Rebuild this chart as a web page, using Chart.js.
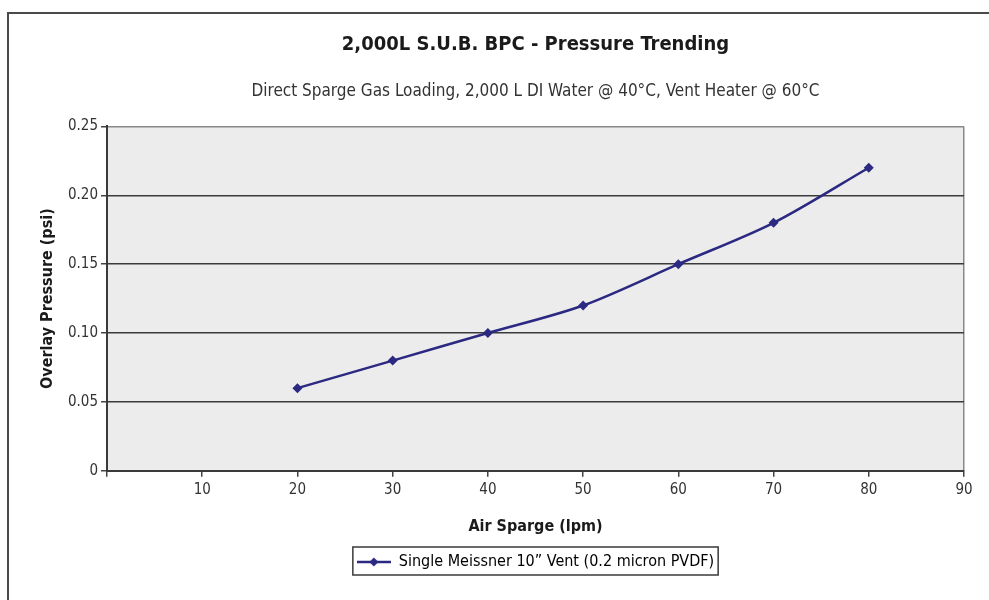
<!DOCTYPE html>
<html lang="en">
<head>
<meta charset="UTF-8" />
<title>2,000L S.U.B. BPC - Pressure Trending</title>
<script src="https://cdn.jsdelivr.net/npm/chart.js"></script>
<style>
  html, body { margin: 0; padding: 0; background: #fff; }
  #wrap { position: relative; width: 989px; height: 600px; overflow: hidden; }
  #frame {
    position: absolute; left: 7px; top: 12px; width: 1000px; height: 700px;
    border: 2px solid #4a4a4a; box-sizing: border-box;
  }
  #chart { position: absolute; left: 0; top: 0; }
</style>
</head>
<body>
<div id="wrap">
  <div id="frame"></div>
  <canvas id="chart" width="989" height="600"></canvas>
</div>
<script>
  // chart data
  const airSparge = [20, 30, 40, 50, 60, 70, 80];
  const overlayPressure = [0.06, 0.08, 0.10, 0.12, 0.15, 0.18, 0.22];
  const xTicks = [10, 20, 30, 40, 50, 60, 70, 80, 90];
  const yTicks = [0, 0.05, 0.10, 0.15, 0.20, 0.25];
  const seriesName = 'Single Meissner 10\u201D Vent (0.2 micron PVDF)';

  const FONT = '"Liberation Sans Narrow", "DejaVu Sans Condensed", "Liberation Sans", sans-serif';
  const NAVY = '#2b2982';
  Chart.defaults.font.family = FONT;
  Chart.defaults.color = '#333';

  // legend marker: line with a diamond
  function legendMarker() {
    const c = document.createElement('canvas');
    c.width = 34; c.height = 12;
    const g = c.getContext('2d');
    g.strokeStyle = NAVY; g.lineWidth = 2.5;
    g.beginPath(); g.moveTo(0, 6); g.lineTo(34, 6); g.stroke();
    g.fillStyle = NAVY;
    g.beginPath(); g.moveTo(17, 1.5); g.lineTo(21.5, 6); g.lineTo(17, 10.5); g.lineTo(12.5, 6); g.closePath(); g.fill();
    return c;
  }
  const marker = legendMarker();

  const plotBg = {
    id: 'plotBg',
    beforeDraw(chart) {
      const a = chart.chartArea, ctx = chart.ctx;
      ctx.save();
      ctx.fillStyle = '#ececec';
      ctx.fillRect(a.left, a.top, a.right - a.left, a.bottom - a.top);
      ctx.restore();
    },
    afterDraw(chart) {
      const lg = chart.legend;
      if (!lg || !lg.legendHitBoxes.length) return;
      const hb = lg.legendHitBoxes[0], ctx = chart.ctx;
      ctx.save();
      ctx.strokeStyle = '#3a3a3a'; ctx.lineWidth = 1.5;
      ctx.strokeRect(hb.left - 4, hb.top - 7, hb.width + 8, hb.height + 12);
      ctx.restore();
    }
  };

  new Chart(document.getElementById('chart'), {
    type: 'line',
    data: {
      datasets: [{
        label: seriesName,
        data: airSparge.map((x, i) => ({ x: x, y: overlayPressure[i] })),
        borderColor: NAVY,
        backgroundColor: NAVY,
        borderWidth: 2.5,
        tension: 0.3,
        pointStyle: 'rectRot',
        pointRadius: 5,
        pointBackgroundColor: NAVY,
        pointBorderWidth: 0
      }]
    },
    options: {
      responsive: false,
      animation: false,
      events: [],
      layout: { padding: { left: 8, right: 25, top: 0, bottom: 20 } },
      plugins: {
        title: {
          display: true,
          fullSize: false,
          text: '2,000L S.U.B. BPC - Pressure Trending',
          color: '#1a1a1a',
          font: { size: 20, weight: 'bold' },
          padding: { top: 33, bottom: 0 }
        },
        subtitle: {
          display: true,
          fullSize: false,
          text: 'Direct Sparge Gas Loading, 2,000 L DI Water @ 40\u00B0C, Vent Heater @ 60\u00B0C',
          color: '#333',
          font: { size: 17 },
          padding: { top: 24, bottom: 25 }
        },
        legend: {
          position: 'bottom',
          fullSize: false,
          labels: {
            usePointStyle: true,
            pointStyleWidth: 34,
            color: '#222',
            font: { size: 16 },
            padding: 14,
            generateLabels: (chart) => [{
              text: seriesName,
              pointStyle: marker,
              fillStyle: NAVY,
              strokeStyle: NAVY,
              lineWidth: 0,
              datasetIndex: 0
            }]
          }
        },
        tooltip: { enabled: false }
      },
      scales: {
        x: {
          type: 'linear',
          min: 0,
          max: 90,
          afterBuildTicks: (s) => { s.ticks = [0].concat(xTicks).map(v => ({ value: v })); },
          ticks: {
            callback: (v) => v === 0 ? '' : String(v),
            font: { size: 15 },
            color: '#333',
            padding: 4,
            maxRotation: 0
          },
          grid: {
            color: (c) => c.tick && c.tick.value === 90 ? '#888' : 'rgba(0,0,0,0)',
            lineWidth: 1.5,
            tickColor: '#444',
            tickLength: 6,
            drawOnChartArea: true
          },
          border: { color: '#3a3a3a', width: 2 },
          title: {
            display: true,
            text: 'Air Sparge (lpm)',
            color: '#1a1a1a',
            font: { size: 16, weight: 'bold' },
            padding: { top: 14, bottom: 4 }
          }
        },
        y: {
          min: 0,
          max: 0.25,
          afterBuildTicks: (s) => { s.ticks = yTicks.map(v => ({ value: v })); },
          afterFit: (s) => { s.width = 99; },
          ticks: {
            callback: (v) => v === 0 ? '0' : v.toFixed(2),
            font: { size: 15 },
            color: '#333',
            padding: 3
          },
          grid: {
            color: (c) => c.tick && Math.abs(c.tick.value - 0.25) < 1e-9 ? '#888' : '#3a3a3a',
            lineWidth: 1.5,
            tickColor: '#444',
            tickLength: 6
          },
          border: { color: '#3a3a3a', width: 2 },
          title: {
            display: true,
            text: 'Overlay Pressure (psi)',
            color: '#1a1a1a',
            font: { size: 16, weight: 'bold' },
            padding: { top: 30, bottom: 0 }
          }
        }
      }
    },
    plugins: [plotBg]
  });
</script>
</body>
</html>
